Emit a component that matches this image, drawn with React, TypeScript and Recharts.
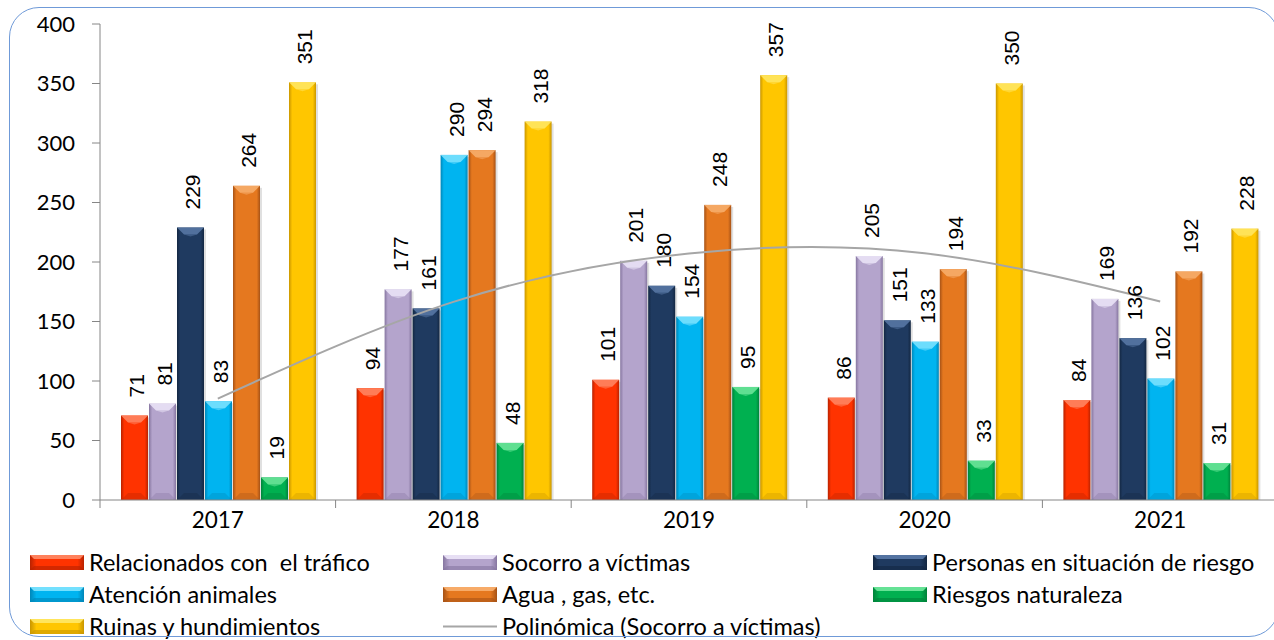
import React from "react";
import { ComposedChart, Bar, Line, XAxis, YAxis, Legend, LabelList } from "recharts";

const years = ["2017", "2018", "2019", "2020", "2021"];
const trafico = [71, 94, 101, 86, 84];
const socorro = [81, 177, 201, 205, 169];
const personas = [229, 161, 180, 151, 136];
const animales = [83, 290, 154, 133, 102];
const agua = [264, 294, 248, 194, 192];
const naturaleza = [19, 48, 95, 33, 31];
const ruinas = [351, 318, 357, 350, 228];
const yTicks = [0, 50, 100, 150, 200, 250, 300, 350, 400];

const series = [
  { key: "trafico", name: "Relacionados con  el tráfico", values: trafico, base: "#ff3300", dark: "#b82200", light: "#ff8a66" },
  { key: "socorro", name: "Socorro a víctimas", values: socorro, base: "#b4a4cc", dark: "#8676a0", light: "#ece6f8" },
  { key: "personas", name: "Personas en situación de riesgo", values: personas, base: "#1f3a60", dark: "#132742", light: "#5a7aa8" },
  { key: "animales", name: "Atención animales", values: animales, base: "#00b4f0", dark: "#0086b8", light: "#80e4ff" },
  { key: "agua", name: "Agua , gas, etc.", values: agua, base: "#e5781f", dark: "#a65216", light: "#f8b070" },
  { key: "naturaleza", name: "Riesgos naturaleza", values: naturaleza, base: "#00b050", dark: "#00823a", light: "#70e89c" },
  { key: "ruinas", name: "Ruinas y hundimientos", values: ruinas, base: "#ffc600", dark: "#c99600", light: "#ffe866" },
];

// least squares, order 2 (Excel "Polinómica" trendline)
function polyFit2(vals: number[]) {
  const xs = vals.map((_, i) => i + 1);
  const s = (f: (x: number, y: number) => number) => xs.reduce((a, x, i) => a + f(x, vals[i]), 0);
  const m = [
    [xs.length, s((x) => x), s((x) => x * x), s((x, y) => y)],
    [s((x) => x), s((x) => x * x), s((x) => x ** 3), s((x, y) => x * y)],
    [s((x) => x * x), s((x) => x ** 3), s((x) => x ** 4), s((x, y) => x * x * y)],
  ];
  for (let c = 0; c < 3; c++) {
    for (let r = 0; r < 3; r++) {
      if (r === c) continue;
      const f = m[r][c] / m[c][c];
      for (let k = c; k < 4; k++) m[r][k] -= f * m[c][k];
    }
  }
  const [a, b, cc] = [m[0][3] / m[0][0], m[1][3] / m[1][1], m[2][3] / m[2][2]];
  return xs.map((x) => a + b * x + cc * x * x);
}

const trend = polyFit2(socorro);

const data = years.map((year, i) => {
  const row: any = { year, trend: trend[i] };
  series.forEach((s) => (row[s.key] = s.values[i]));
  return row;
});

const catFont = "Lato, 'Open Sans', sans-serif";
const numFont = "'Liberation Sans', Arial, sans-serif";

const BevelBar = (props: any) => {
  const { x, y, width, height, s } = props;
  if (!height || height <= 0) return null;
  const d = Math.min(7, height / 2, width / 2);
  return (
    <g>
      <rect x={x + 2} y={y + 2} width={width} height={height - 2} fill="#000" opacity={0.12} />
      <rect x={x} y={y} width={width} height={height} fill={`url(#g-${s.key})`} />
      <polygon points={`${x},${y} ${x + width},${y} ${x + width - d},${y + d} ${x + d},${y + d}`} fill={s.light} opacity={0.85} />
      <polygon points={`${x + d},${y + d} ${x + width / 2},${y + d + 2} ${x + width - d},${y + d}`} fill={s.light} opacity={0.5} />
      <polygon points={`${x},${y + height} ${x + width},${y + height} ${x + width - d},${y + height - d} ${x + d},${y + height - d}`} fill={s.dark} opacity={0.35} />
    </g>
  );
};

const LegendIcon = ({ s }: any) => (
  <svg width={54} height={15} style={{ marginRight: 5, flex: "none" }}>
    <rect x={0} y={0} width={54} height={15} fill={`url(#g-${s.key})`} />
    <polygon points="0,0 54,0 50,4 4,4" fill={s.light} opacity={0.9} />
    <polygon points="0,15 54,15 50,11 4,11" fill={s.dark} opacity={0.6} />
  </svg>
);

const renderLegend = () => {
  const items: any[] = [...series.map((s) => ({ s, name: s.name })), { s: null, name: "Polinómica (Socorro a víctimas)" }];
  return (
    <div
      style={{
        display: "grid",
        gridTemplateColumns: "413px 430px 420px",
        gridAutoRows: "32px",
        fontFamily: catFont,
        fontSize: 23.5,
        lineHeight: "28px",
        color: "#000",
        height: 100,
        boxSizing: "border-box",
        paddingTop: 6,
        overflow: "visible",
      }}
    >
      {items.map((it, i) => (
        <div key={i} style={{ display: "flex", alignItems: "center", height: 32, whiteSpace: "pre" }}>
          {it.s ? (
            <LegendIcon s={it.s} />
          ) : (
            <svg width={54} height={15} style={{ marginRight: 5, flex: "none" }}>
              <line x1={0} y1={7.5} x2={54} y2={7.5} stroke="#a6a6a6" strokeWidth={2} />
            </svg>
          )}
          <span>{it.name}</span>
        </div>
      ))}
    </div>
  );
};

const XTick = (props: any) => {
  const { x, y, payload } = props;
  const half = payload.offset || 117.8;
  return (
    <g>
      <line x1={x - half} y1={y} x2={x - half} y2={y + 8} stroke="#868686" />
      <text x={x} y={y + 28} textAnchor="middle" fontFamily={catFont} fontSize={22.5} fill="#000">
        {payload.value}
      </text>
    </g>
  );
};

const ValueLabel = (props: any) => {
  const { x, y, width, value } = props;
  const cx = x + width / 2 + 2;
  const ty = y - 18;
  return (
    <text
      x={cx}
      y={ty}
      transform={`rotate(-90 ${cx} ${ty})`}
      textAnchor="start"
      dominantBaseline="central"
      fontFamily={numFont}
      fontSize={21}
      fill="#000"
    >
      {value}
    </text>
  );
};

export default function App() {
  return (
    <div style={{ position: "absolute", left: 0, top: 0, width: 1274, height: 640, overflow: "hidden", background: "#fff" }}>
      <ComposedChart
        width={1278}
        height={640}
        data={data}
        barCategoryGap={21}
        barGap={1}
        margin={{ top: 24, right: 0, left: 0, bottom: 0 }}
      >
        <defs>
          {series.map((s) => (
            <linearGradient key={s.key} id={`g-${s.key}`} x1="0" y1="0" x2="1" y2="0">
              <stop offset="0%" stopColor={s.dark} />
              <stop offset="12%" stopColor={s.base} />
              <stop offset="88%" stopColor={s.base} />
              <stop offset="100%" stopColor={s.dark} />
            </linearGradient>
          ))}
        </defs>
        <XAxis
          dataKey="year"
          stroke="#868686"
          tickLine={false}
          tickSize={0}
          tickMargin={0}
          height={40}
          tick={<XTick />}
          interval={0}
        />
        <YAxis
          domain={[0, 400]}
          ticks={yTicks}
          width={100}
          stroke="#868686"
          tickSize={8}
          tickMargin={17}
          tick={{ fontFamily: catFont, fontSize: 22, fill: "#000" }}
        />
        {series.map((s) => (
          <Bar
            key={s.key}
            dataKey={s.key}
            name={s.name}
            fill={s.base}
            isAnimationActive={false}
            shape={(p: any) => <BevelBar {...p} s={s} />}
          >
            <LabelList dataKey={s.key} content={<ValueLabel />} />
          </Bar>
        ))}
        <Line
          dataKey="trend"
          type="natural"
          stroke="#a6a6a6"
          strokeWidth={2}
          dot={false}
          activeDot={false}
          isAnimationActive={false}
        />
        <Legend
          verticalAlign="bottom"
          align="left"
          content={renderLegend}
          wrapperStyle={{ left: 30, width: 1244 }}
        />
      </ComposedChart>
      <div
        style={{
          position: "absolute",
          left: 9,
          top: 7,
          width: 1268,
          height: 628,
          border: "1.5px solid #6f9ad8",
          borderRadius: 30,
          pointerEvents: "none",
        }}
      />
    </div>
  );
}
